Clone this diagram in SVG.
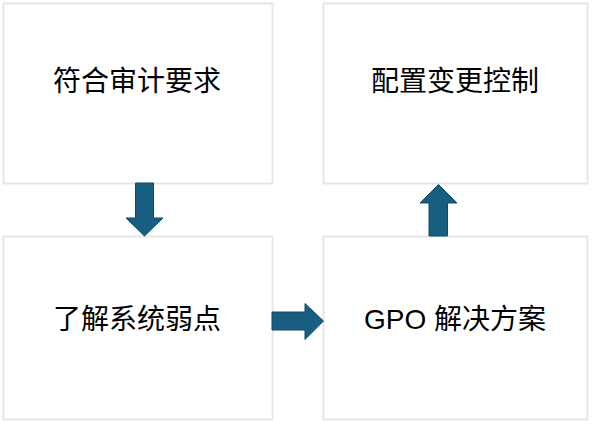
<svg xmlns="http://www.w3.org/2000/svg" width="595" height="426" viewBox="0 0 595 426">
<style>
.box{fill:#ffffff;stroke:#e6e6e6;stroke-width:2}
.lbl{font-family:"Liberation Sans","Noto Sans CJK SC",sans-serif;font-size:28px;fill:#000000;text-anchor:middle;dominant-baseline:central}
.arr{fill:#175e80;stroke:#124a66;stroke-width:1;stroke-linejoin:miter}
</style>
<rect width="595" height="426" fill="#ffffff"/>
<g id="node-audit">
<rect class="box" x="3.5" y="3.5" width="269" height="180"/>
<text class="lbl" x="137" y="81">符合审计要求</text>
</g>
<g id="node-config">
<rect class="box" x="323.5" y="3.5" width="264" height="180"/>
<text class="lbl" x="455" y="81">配置变更控制</text>
</g>
<g id="node-weak">
<rect class="box" x="3.5" y="236.5" width="269" height="183"/>
<text class="lbl" x="137" y="319">了解系统弱点</text>
</g>
<g id="node-gpo">
<rect class="box" x="323.5" y="236.5" width="264" height="183"/>
<text class="lbl" x="455" y="319">GPO 解决方案</text>
</g>
<g id="connectors">
<polygon class="arr" points="135.5,183 153.5,183 153.5,218 163,218 144.5,236 126,218 135.5,218"/>
<polygon class="arr" points="272,312 305,312 305,303.5 323.5,321 305,339.5 305,330 272,330"/>
<polygon class="arr" points="429,236 447.5,236 447.5,203 457,203 438.5,184.5 420,203 429,203"/>
</g>
</svg>
